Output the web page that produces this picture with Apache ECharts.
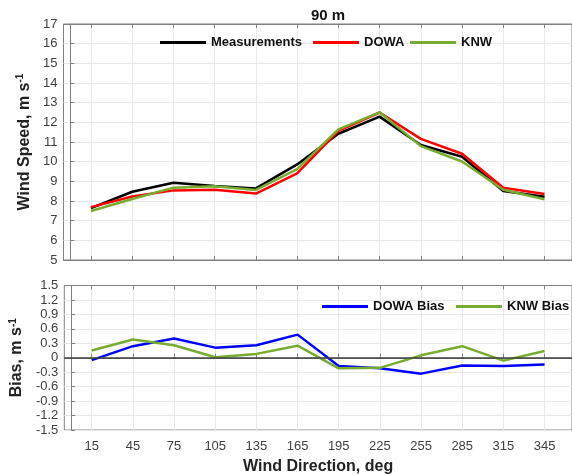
<!DOCTYPE html>
<html><head><meta charset="utf-8">
<script src="https://cdn.jsdelivr.net/npm/echarts@6/dist/echarts.min.js"></script>
<style>html,body{margin:0;padding:0;background:#fff}#c{width:572px;height:476px}</style>
</head><body><div id="c"></div>
<script>
var directions = [15, 45, 75, 105, 135, 165, 195, 225, 255, 285, 315, 345];
var measurements = [7.64, 8.47, 8.93, 8.76, 8.64, 9.86, 11.42, 12.29, 10.85, 10.25, 8.51, 8.22];
var dowa = [7.69, 8.23, 8.54, 8.57, 8.38, 9.40, 11.57, 12.50, 11.16, 10.40, 8.67, 8.36];
var knw = [7.49, 8.10, 8.68, 8.75, 8.56, 9.62, 11.64, 12.51, 10.79, 10.01, 8.57, 8.09];
var dowaBias = [-0.05, 0.24, 0.40, 0.21, 0.26, 0.48, -0.17, -0.22, -0.33, -0.16, -0.17, -0.14];
var knwBias = [0.15, 0.38, 0.26, 0.01, 0.08, 0.25, -0.22, -0.21, 0.05, 0.24, -0.06, 0.14];
var speedTicks = {min: 5, max: 17, step: 1};
var biasTicks = {min: -1.5, max: 1.5, step: 0.3};

function pairs(v){ return directions.map(function(d,i){ return [d, v[i]]; }); }

var FONT = 'Liberation Sans, Arial, sans-serif';
var BOX = '#808080', GRIDC = '#e8e8e8', TXT = '#404040';
var left = 63.5, right = -13;

function xAx(gi, opts){
  return Object.assign({
    type: 'value', gridIndex: gi, min: -5, max: 365,
    axisLine: {show: true, lineStyle: {color: BOX, width: 1}},
    axisTick: {show: true, inside: true, length: 4, customValues: directions, lineStyle: {color: BOX}},
    axisLabel: {show: false, customValues: directions},
    splitLine: {show: false}
  }, opts);
}
function yAx(gi, t, name, gap){
  return {
    type: 'value', gridIndex: gi, min: t.min, max: t.max, interval: t.step,
    axisLine: {show: true, lineStyle: {color: BOX}},
    axisTick: {show: true, inside: true, length: 4, lineStyle: {color: BOX}},
    axisLabel: {color: TXT, fontSize: 13, fontFamily: FONT, margin: 6,
      formatter: function(v){ var r = Math.round(v*10)/10; return r === 0 ? '0' : (Number.isInteger(r) && t.step >= 1 ? String(r) : r.toFixed(1)); }},
    splitLine: {show: true, lineStyle: {color: GRIDC}},
    name: name, nameLocation: 'middle', nameGap: gap, nameRotate: 90,
    nameTextStyle: {fontSize: 16, fontWeight: 'bold', color: '#222', fontFamily: FONT,
      rich: {sup: {fontSize: 10, fontWeight: 'bold', color: '#222', fontFamily: FONT, verticalAlign: 'top', padding: [0,0,8,0]}}}
  };
}
function leg(name, l, t){
  return {data: [name], left: l, top: t, icon: 'rect', itemWidth: 46, itemHeight: 3,
    textStyle: {fontSize: 13, fontWeight: 'bold', color: '#111', fontFamily: FONT}, selectedMode: false};
}

var chart = echarts.init(document.getElementById('c'), null, {renderer: 'canvas'});
chart.setOption({
  animation: false,
  title: {text: '90 m', left: 323, top: 3, textAlign: 'center',
    textStyle: {fontSize: 15, fontWeight: 'bold', color: '#111', fontFamily: FONT}},
  grid: [
    {left: left, right: right, top: 24, height: 236, show: true, borderColor: BOX, borderWidth: 1},
    {left: left, right: right, top: 285.5, height: 148, show: true, borderColor: BOX, borderWidth: 1}
  ],
  legend: [
    leg('Measurements', 155, 31), leg('DOWA', 308, 31), leg('KNW', 405, 31),
    leg('DOWA Bias', 317, 295), leg('KNW Bias', 451, 295)
  ],
  xAxis: [
    xAx(0, {splitLine: {show: true, lineStyle: {color: GRIDC}}}),
    xAx(0, {position: 'top'}),
    xAx(1, {splitLine: {show: true, lineStyle: {color: GRIDC}},
      axisLabel: {show: true, customValues: directions, color: TXT, fontSize: 13, fontFamily: FONT, margin: 10},
      name: 'Wind Direction, deg', nameLocation: 'middle', nameGap: 29,
      nameTextStyle: {fontSize: 16, fontWeight: 'bold', color: '#222', fontFamily: FONT}}),
    xAx(1, {position: 'top'})
  ],
  yAxis: [
    yAx(0, speedTicks, 'Wind Speed, m s{sup|-1}', 28),
    yAx(1, biasTicks, 'Bias, m s{sup|-1}', 28)
  ],
  series: [
    {name: 'Measurements', type: 'line', xAxisIndex: 0, yAxisIndex: 0, data: pairs(measurements),
      symbol: 'none', lineStyle: {color: '#000000', width: 2.5}, itemStyle: {color: '#000000'}},
    {name: 'DOWA', type: 'line', xAxisIndex: 0, yAxisIndex: 0, data: pairs(dowa),
      symbol: 'none', lineStyle: {color: '#ff0000', width: 2.5}, itemStyle: {color: '#ff0000'}},
    {name: 'KNW', type: 'line', xAxisIndex: 0, yAxisIndex: 0, data: pairs(knw),
      symbol: 'none', lineStyle: {color: '#77ac30', width: 2.5}, itemStyle: {color: '#77ac30'}},
    {name: 'DOWA Bias', type: 'line', xAxisIndex: 2, yAxisIndex: 1, data: pairs(dowaBias),
      symbol: 'none', lineStyle: {color: '#0000ff', width: 2.5}, itemStyle: {color: '#0000ff'},
      markLine: {silent: true, symbol: 'none', label: {show: false}, data: [{yAxis: 0}],
        lineStyle: {color: '#404040', width: 1.5, type: 'solid'}}},
    {name: 'KNW Bias', type: 'line', xAxisIndex: 2, yAxisIndex: 1, data: pairs(knwBias),
      symbol: 'none', lineStyle: {color: '#77ac30', width: 2.5}, itemStyle: {color: '#77ac30'}}
  ]
});
</script></body></html>
